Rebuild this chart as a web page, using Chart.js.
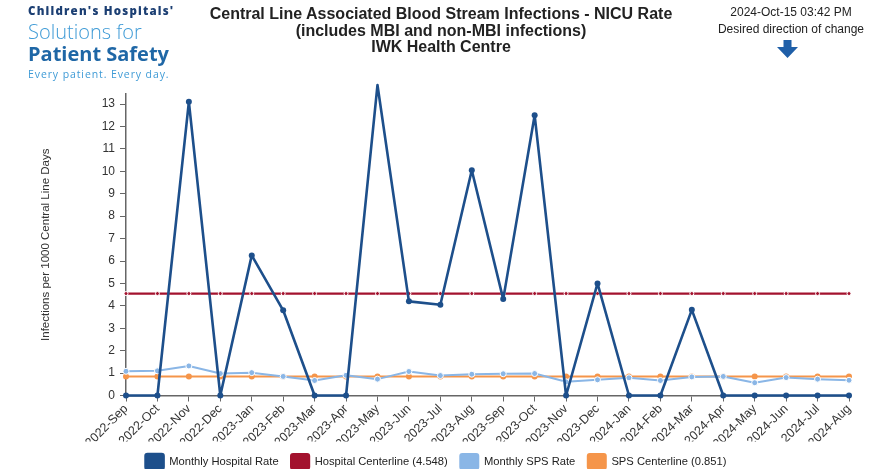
<!DOCTYPE html>
<html><head><meta charset="utf-8">
<script src="https://cdn.jsdelivr.net/npm/chart.js@4/dist/chart.umd.min.js"></script>
<style>
html,body{margin:0;padding:0;background:#fff;overflow:hidden;width:869px;height:469px;}
#wrap{position:absolute;left:0;top:0;width:869px;height:479px;}
.logo{position:absolute;left:28px;top:4px;font-family:"Open Sans",sans-serif;}
.l1{font-size:11.5px;font-weight:800;color:#1c3f73;letter-spacing:1.2px;line-height:14px;}
.l2{font-size:20px;font-weight:300;color:#3f9bd6;line-height:21px;margin-top:3px;}
.l3{font-size:20px;font-weight:700;color:#1f67a6;line-height:22px;margin-top:1px;}
.l4{font-size:10.5px;color:#3f9bd6;letter-spacing:0.9px;line-height:15px;margin-top:2px;}
.title{position:absolute;left:0;width:882px;top:6px;text-align:center;font-family:"Liberation Sans",Arial,sans-serif;font-weight:bold;font-size:16px;line-height:16.5px;color:#222;}
.tr{position:absolute;left:705px;width:172px;text-align:center;font-family:"Liberation Sans",Arial,sans-serif;font-size:12px;color:#222;}
</style></head>
<body>
<div id="wrap"><canvas id="c" width="869" height="479"></canvas></div>
<div class="logo">
<div class="l1">Children's Hospitals'</div>
<div class="l2">Solutions for</div>
<div class="l3">Patient Safety</div>
<div class="l4">Every patient. Every day.</div>
</div>
<div class="title">Central Line Associated Blood Stream Infections - NICU Rate<br>(includes MBI and non-MBI infections)<br>IWK Health Centre</div>
<div class="tr" style="top:5px;">2024-Oct-15 03:42 PM</div>
<div class="tr" style="top:22px;">Desired direction of change</div>
<svg style="position:absolute;left:777px;top:40px;" width="21" height="18"><polygon points="6.5,0 14.5,0 14.5,7 21,7 10.5,18 0,7 6.5,7" fill="#1f5fa8"/></svg>
<script>
const months = ["2022-Sep","2022-Oct","2022-Nov","2022-Dec","2023-Jan","2023-Feb","2023-Mar","2023-Apr","2023-May","2023-Jun","2023-Jul","2023-Aug","2023-Sep","2023-Oct","2023-Nov","2023-Dec","2024-Jan","2024-Feb","2024-Mar","2024-Apr","2024-May","2024-Jun","2024-Jul","2024-Aug"];
const hospitalRate = [0,0,13.1,0,6.25,3.8,0,0,13.85,4.2,4.05,10.05,4.3,12.5,0,5.0,0,0,3.82,0,0,0,0,0];
const hospitalCenter = 4.548;
const spsRate = [1.08,1.1,1.32,0.98,1.02,0.85,0.67,0.9,0.73,1.07,0.89,0.95,0.97,0.98,0.61,0.7,0.79,0.67,0.83,0.85,0.57,0.8,0.73,0.68];
const spsCenter = 0.851;
const yTicks = [0,1,2,3,4,5,6,7,8,9,10,11,12,13];

const hospCenterArr = months.map(() => hospitalCenter);
const spsCenterArr = months.map(() => spsCenter);
const F = '"Liberation Sans", Arial, sans-serif';

new Chart(document.getElementById('c'), {
  type: 'line',
  data: {
    labels: months,
    datasets: [
      {label:'Monthly Hospital Rate', data: hospitalRate, borderColor:'#1d4f8b', backgroundColor:'#1d4f8b', borderWidth:2.6, borderJoinStyle:'round', pointRadius:3, pointBackgroundColor:'#1d4f8b', pointBorderColor:'#1d4f8b', pointBorderWidth:0, tension:0},
      {label:'Hospital Centerline (4.548)', data: hospCenterArr, borderColor:'#a3122e', backgroundColor:'#a3122e', borderWidth:2.2, pointRadius:2, pointBackgroundColor:'#a3122e', pointBorderColor:'#ffffff', pointBorderWidth:1, tension:0},
      {label:'Monthly SPS Rate', data: spsRate, borderColor:'#8ab6e6', backgroundColor:'#8ab6e6', borderWidth:2, borderJoinStyle:'round', pointRadius:3, pointBackgroundColor:'#8ab6e6', pointBorderColor:'#ffffff', pointBorderWidth:1, tension:0},
      {label:'SPS Centerline (0.851)', data: spsCenterArr, borderColor:'#f5954a', backgroundColor:'#f5954a', borderWidth:2, pointRadius:3, pointBackgroundColor:'#f5954a', pointBorderColor:'#f5954a', pointBorderWidth:0, tension:0}
    ]
  },
  options: {
    responsive:false, animation:false, maintainAspectRatio:false,
    clip:false,
    layout:{padding:{left:23,right:20,top:94,bottom:0}},
    plugins:{
      legend:{position:'bottom', labels:{boxWidth:18, boxHeight:15, padding:12.5, useBorderRadius:true, borderRadius:2, color:'#222', font:{family:F, size:11.2}}},
      tooltip:{enabled:false}
    },
    scales:{
      x:{
        offset:false,
        grid:{drawOnChartArea:false, drawTicks:true, tickLength:6, color:'#666', tickColor:'#666'},
        border:{display:true, color:'#666', width:1.5},
        ticks:{minRotation:45, maxRotation:45, autoSkip:false, color:'#333', padding:0, font:{family:F, size:12.5}},
        afterFit:(s)=>{s.height=46;}
      },
      y:{
        min:0, max:13.45,
        grid:{drawOnChartArea:false, drawTicks:true, tickLength:6, color:'#666', tickColor:'#666'},
        border:{display:true, color:'#666', width:1.5},
        ticks:{stepSize:1, color:'#333', padding:5, font:{family:F, size:12}},
        afterBuildTicks:(s)=>{s.ticks = yTicks.map(v=>({value:v}));},
        title:{display:true, text:'Infections per 1000 Central Line Days', color:'#333', padding:{top:16,bottom:4}, font:{family:F, size:11.5}},
        afterFit:(s)=>{s.width=103;}
      }
    }
  }
});
</script>
</body></html>
